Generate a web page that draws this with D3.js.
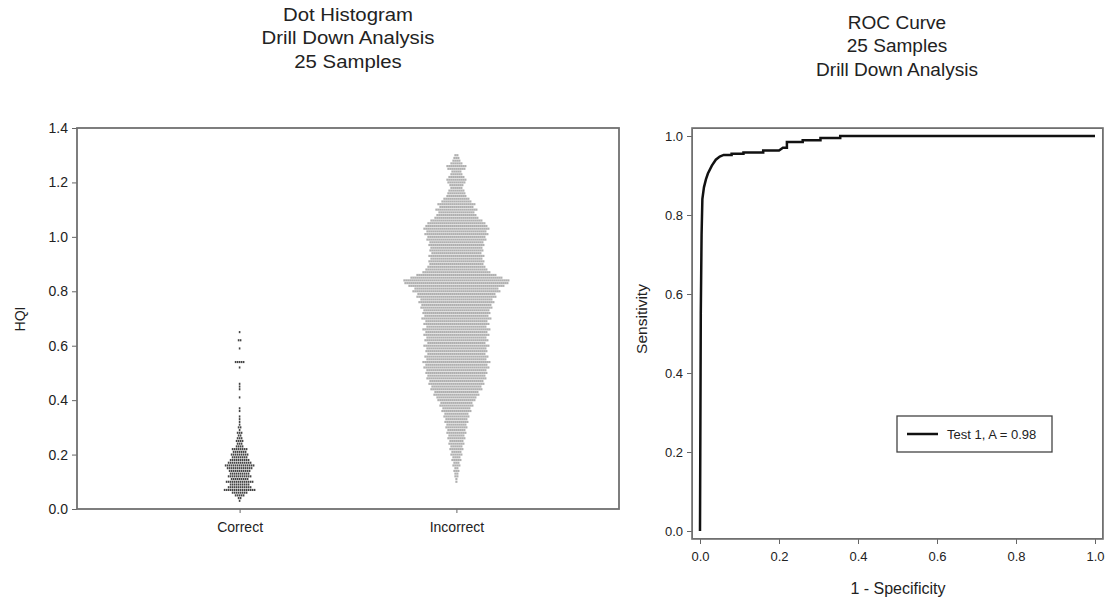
<!DOCTYPE html>
<html>
<head>
<meta charset="utf-8">
<script src="https://cdn.jsdelivr.net/npm/d3@7"></script>
<style>
  body { margin: 0; background: #fff; }
  svg { font-family: "Liberation Sans", Arial, sans-serif; }
  .tick text { fill: #222; }
  .tick line { stroke: #666; }
  .left-ax .tick text { font-size: 14px; }
  .right-ax .tick text { font-size: 13px; }
</style>
</head>
<body>
<svg id="chart" width="1107" height="600"></svg>
<script>
// --- dot histogram data (dots per 0.01 HQI bin) ---
var categories = ["Correct", "Incorrect"];
var binWidth = 0.01;
var correctStart = 0.03;
var correctCounts = [
  1, 2, 5, 8, 16, 12, 10, 14, 9, 12,      // 0.03 - 0.12
  10, 11, 13, 15, 12, 10, 8, 9, 7, 8,     // 0.13 - 0.22
  4, 3, 4, 3, 2, 3, 1, 2, 1, 1,           // 0.23 - 0.32
  1, 1, 0, 1, 1, 0, 0, 0, 1, 0,           // 0.33 - 0.42
  0, 1, 1, 1, 0, 0, 0, 0, 0, 1,           // 0.43 - 0.52
  0, 5, 0, 0, 0, 0, 1, 0, 0, 2,           // 0.53 - 0.62
  0, 0, 1                                 // 0.63 - 0.65
];
var incorrectStart = 0.10;
var incorrectCounts = [
  1, 1, 2, 2, 3, 2, 4, 3, 5, 4,           // 0.10 - 0.19
  6, 5, 7, 6, 8, 7, 9, 8, 10, 9,          // 0.20 - 0.29
  11, 10, 12, 11, 13, 12, 15, 14, 17, 16, // 0.30 - 0.39
  19, 20, 23, 22, 26, 25, 28, 27, 30, 29, // 0.40 - 0.49
  31, 30, 33, 31, 34, 30, 32, 29, 31, 30, // 0.50 - 0.59
  33, 29, 32, 30, 33, 31, 34, 30, 33, 31, // 0.60 - 0.69
  35, 32, 34, 33, 36, 35, 38, 36, 40, 39, // 0.70 - 0.79
  44, 42, 48, 52, 53, 46, 40, 34, 31, 29, // 0.80 - 0.89
  27, 28, 26, 28, 25, 27, 26, 28, 27, 30, // 0.90 - 0.99
  29, 32, 30, 33, 31, 29, 26, 22, 20, 18, // 1.00 - 1.09
  21, 17, 19, 15, 13, 10, 9, 8, 6, 7,     // 1.10 - 1.19
  9, 10, 8, 6, 5, 9, 10, 6, 4, 3,         // 1.20 - 1.29
  2                                       // 1.30
];
var hqiTicks = [0, 0.2, 0.4, 0.6, 0.8, 1.0, 1.2, 1.4];

// --- ROC curve data ---
var rocFpr = [0, 0.002, 0.004, 0.006, 0.01, 0.015, 0.02, 0.03, 0.04, 0.05, 0.06, 0.08, 0.08,
  0.11, 0.11, 0.16, 0.16, 0.20, 0.21, 0.22, 0.22, 0.26, 0.26, 0.305, 0.305, 0.355, 0.355, 1.0];
var rocTpr = [0, 0.55, 0.75, 0.84, 0.87, 0.89, 0.905, 0.925, 0.94, 0.948, 0.952, 0.952, 0.955,
  0.955, 0.958, 0.958, 0.963, 0.963, 0.97, 0.97, 0.985, 0.985, 0.989, 0.989, 0.995, 0.995, 1.0, 1.0];
var rocTicks = [0, 0.2, 0.4, 0.6, 0.8, 1.0];
var legendLabel = "Test 1, A = 0.98";

var svg = d3.select("#chart");
var fmt = d3.format(".1f");
var dotStep = 2;

//Titles, slightly wide like the source picture
function title(lines, cx, y0, sx) {
    var t = svg.append("text").attr("text-anchor", "middle")
        .attr("transform", "translate(" + cx + "," + y0 + ") scale(" + sx + ",1)")
        .attr("font-size", 18.5).attr("fill", "#222");
    lines.forEach(function(l, i) {
        t.append("tspan").attr("x", 0).attr("y", i * 23.5).text(l);
    });
}
title(["Dot Histogram", "Drill Down Analysis", "25 Samples"], 348, 21, 1.1);
title(["ROC Curve", "25 Samples", "Drill Down Analysis"], 897, 29, 1.03);

// ---------- left panel ----------
var xCat = d3.scalePoint().domain(categories).range([77, 619]).padding(0.75);
var yHqi = d3.scaleLinear().domain([0, 1.4]).range([509, 128]);
var rowH = Math.abs(yHqi(binWidth) - yHqi(0));

var left = svg.append("g");

function drawDots(cat, start, counts, fill, w) {
    var g = left.append("g");
    var cx = xCat(cat);
    counts.forEach(function(n, i) {
        var v = start + i * binWidth;
        for (var k = 0; k < n; k++) {
            var off = (k - (n - 1) / 2) * dotStep;
            g.append("rect")
                .attr("x", cx + off - w / 2)
                .attr("y", yHqi(v) - rowH / 2 + 0.3)
                .attr("width", w)
                .attr("height", rowH - 0.6)
                .attr("fill", fill);
        }
    });
}
drawDots("Correct", correctStart, correctCounts, "#444", 1.6);
drawDots("Incorrect", incorrectStart, incorrectCounts, "#b0b0b0", 2.1);

left.append("g")
    .attr("class", "left-ax")
    .attr("transform", "translate(77,0)")
    .call(d3.axisLeft(yHqi).tickValues(hqiTicks).tickFormat(fmt).tickSize(5).tickPadding(4))
    .call(function(g) { g.select(".domain").remove(); });

left.append("g")
    .attr("class", "left-ax")
    .attr("transform", "translate(0,509)")
    .call(d3.axisBottom(xCat).tickSize(4).tickPadding(9))
    .call(function(g) { g.select(".domain").remove(); });

left.append("rect")
    .attr("x", 77).attr("y", 128).attr("width", 542).attr("height", 381)
    .attr("fill", "none").attr("stroke", "#707070").attr("stroke-width", 1.8);

left.append("text")
    .attr("transform", "translate(25,319) rotate(-90)")
    .attr("text-anchor", "middle").attr("font-size", 14).attr("fill", "#222")
    .text("HQI");

// ---------- right panel ----------
var xRoc = d3.scaleLinear().domain([0, 1]).range([700, 1095]);
var yRoc = d3.scaleLinear().domain([0, 1]).range([531, 136]);
var right = svg.append("g");

right.append("g")
    .attr("class", "right-ax")
    .attr("transform", "translate(692,0)")
    .call(d3.axisLeft(yRoc).tickValues(rocTicks).tickFormat(fmt).tickSize(5).tickPadding(4))
    .call(function(g) { g.select(".domain").remove(); });

right.append("g")
    .attr("class", "right-ax")
    .attr("transform", "translate(0,539)")
    .call(d3.axisBottom(xRoc).tickValues(rocTicks).tickFormat(fmt).tickSize(5).tickPadding(8))
    .call(function(g) { g.select(".domain").remove(); });

right.append("rect")
    .attr("x", xRoc(-0.02)).attr("y", yRoc(1.02))
    .attr("width", xRoc(1.02) - xRoc(-0.02)).attr("height", yRoc(-0.02) - yRoc(1.02))
    .attr("fill", "none").attr("stroke", "#707070").attr("stroke-width", 1.8);

var rocPts = rocFpr.map(function(f, i) { return [f, rocTpr[i]]; });
right.append("path")
    .datum(rocPts)
    .attr("fill", "none").attr("stroke", "#111").attr("stroke-width", 2.5)
    .attr("d", d3.line().x(function(d) { return xRoc(d[0]); }).y(function(d) { return yRoc(d[1]); }));

right.append("text")
    .attr("transform", "translate(647,319) rotate(-90)")
    .attr("text-anchor", "middle").attr("font-size", 15.5).attr("fill", "#222")
    .text("Sensitivity");
right.append("text")
    .attr("x", 898).attr("y", 594)
    .attr("text-anchor", "middle").attr("font-size", 16).attr("fill", "#222")
    .text("1 - Specificity");

//Legend
var lg = right.append("g").attr("transform", "translate(897,416)");
lg.append("rect").attr("width", 155).attr("height", 36)
    .attr("fill", "#fff").attr("stroke", "#444").attr("stroke-width", 1.3);
lg.append("line").attr("x1", 10).attr("x2", 41).attr("y1", 18).attr("y2", 18)
    .attr("stroke", "#111").attr("stroke-width", 2.5);
lg.append("text").attr("x", 50).attr("y", 22.5).attr("font-size", 13).attr("fill", "#222")
    .text(legendLabel);
</script>
</body>
</html>
